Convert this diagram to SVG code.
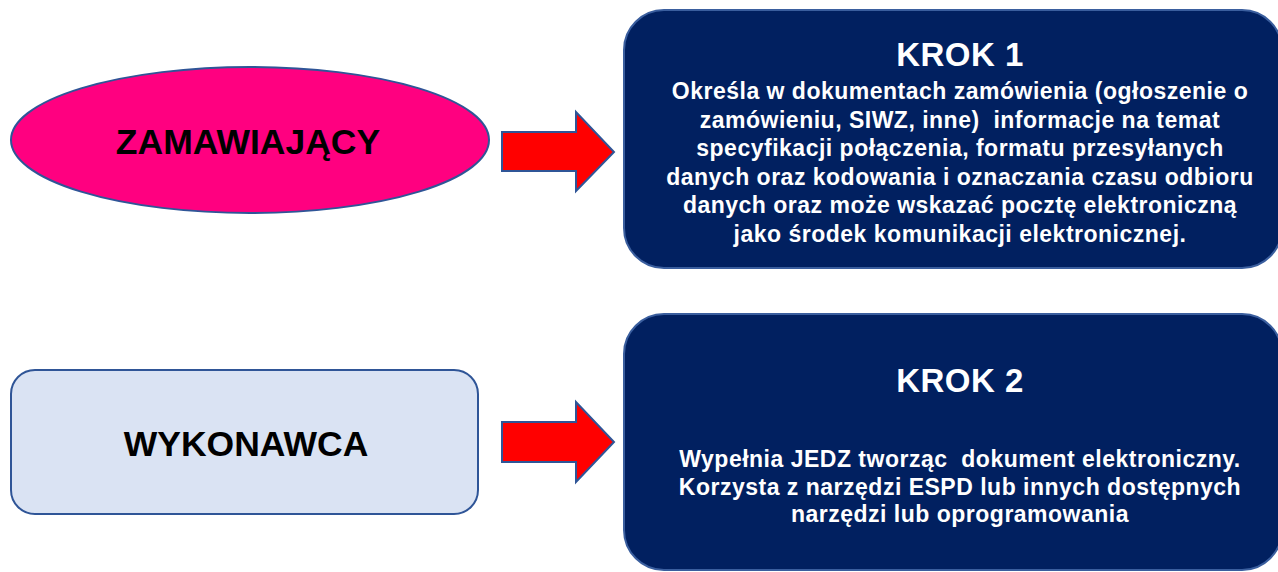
<svg xmlns="http://www.w3.org/2000/svg" width="1278" height="572" viewBox="0 0 1278 572">
<style>
text{white-space:pre}
.lbl{font-family:"Liberation Sans",Arial,sans-serif;font-weight:bold;fill:#000;font-size:35.5px;text-anchor:middle}
.ttl{font-family:"Liberation Sans",Arial,sans-serif;font-weight:bold;fill:#fff;font-size:33px;text-anchor:middle;letter-spacing:0.5px}
.body{font-family:"Liberation Sans",Arial,sans-serif;font-weight:bold;fill:#fff;font-size:23px;text-anchor:middle;letter-spacing:0.5px}
.step{fill:#012060;stroke:#3A5E9E;stroke-width:2}
.arrow{fill:#FF0000;stroke:#2F5597;stroke-width:2;stroke-linejoin:miter}
</style>
<rect width="1278" height="572" fill="#fff"/>
<g id="zamawiajacy">
<ellipse cx="250" cy="140" rx="239" ry="73" fill="#FF0080" stroke="#2F5597" stroke-width="2"/>
<text class="lbl" x="248" y="154">ZAMAWIAJĄCY</text>
</g>
<g id="wykonawca">
<rect x="11" y="370" width="467" height="144" rx="24" fill="#DAE3F3" stroke="#2F5597" stroke-width="2"/>
<text class="lbl" x="246" y="456">WYKONAWCA</text>
</g>
<g id="krok1">
<rect class="step" x="624" y="10" width="658" height="258" rx="40"/>
<text class="ttl" x="960" y="66">KROK 1</text>
<text class="body" x="960" y="99">Określa w dokumentach zamówienia (ogłoszenie o</text>
<text class="body" x="960" y="127.5">zamówieniu, SIWZ, inne)  informacje na temat</text>
<text class="body" x="960" y="156">specyfikacji połączenia, formatu przesyłanych</text>
<text class="body" x="960" y="184.5">danych oraz kodowania i oznaczania czasu odbioru</text>
<text class="body" x="960" y="213">danych oraz może wskazać pocztę elektroniczną</text>
<text class="body" x="960" y="241.5">jako środek komunikacji elektronicznej.</text>
</g>
<g id="krok2">
<rect class="step" x="624" y="314" width="658" height="256" rx="40"/>
<text class="ttl" x="960" y="392">KROK 2</text>
<text class="body" x="960" y="467">Wypełnia JEDZ tworząc  dokument elektroniczny.</text>
<text class="body" x="960" y="494.5">Korzysta z narzędzi ESPD lub innych dostępnych</text>
<text class="body" x="960" y="522">narzędzi lub oprogramowania</text>
</g>
<g id="connectors">
<path class="arrow" d="M502,132 H576 V112 L614,152 L576,191 V171 H502 Z"/>
<path class="arrow" d="M502,422 H576 V402 L614,442 L576,482 V462 H502 Z"/>
</g>
</svg>
